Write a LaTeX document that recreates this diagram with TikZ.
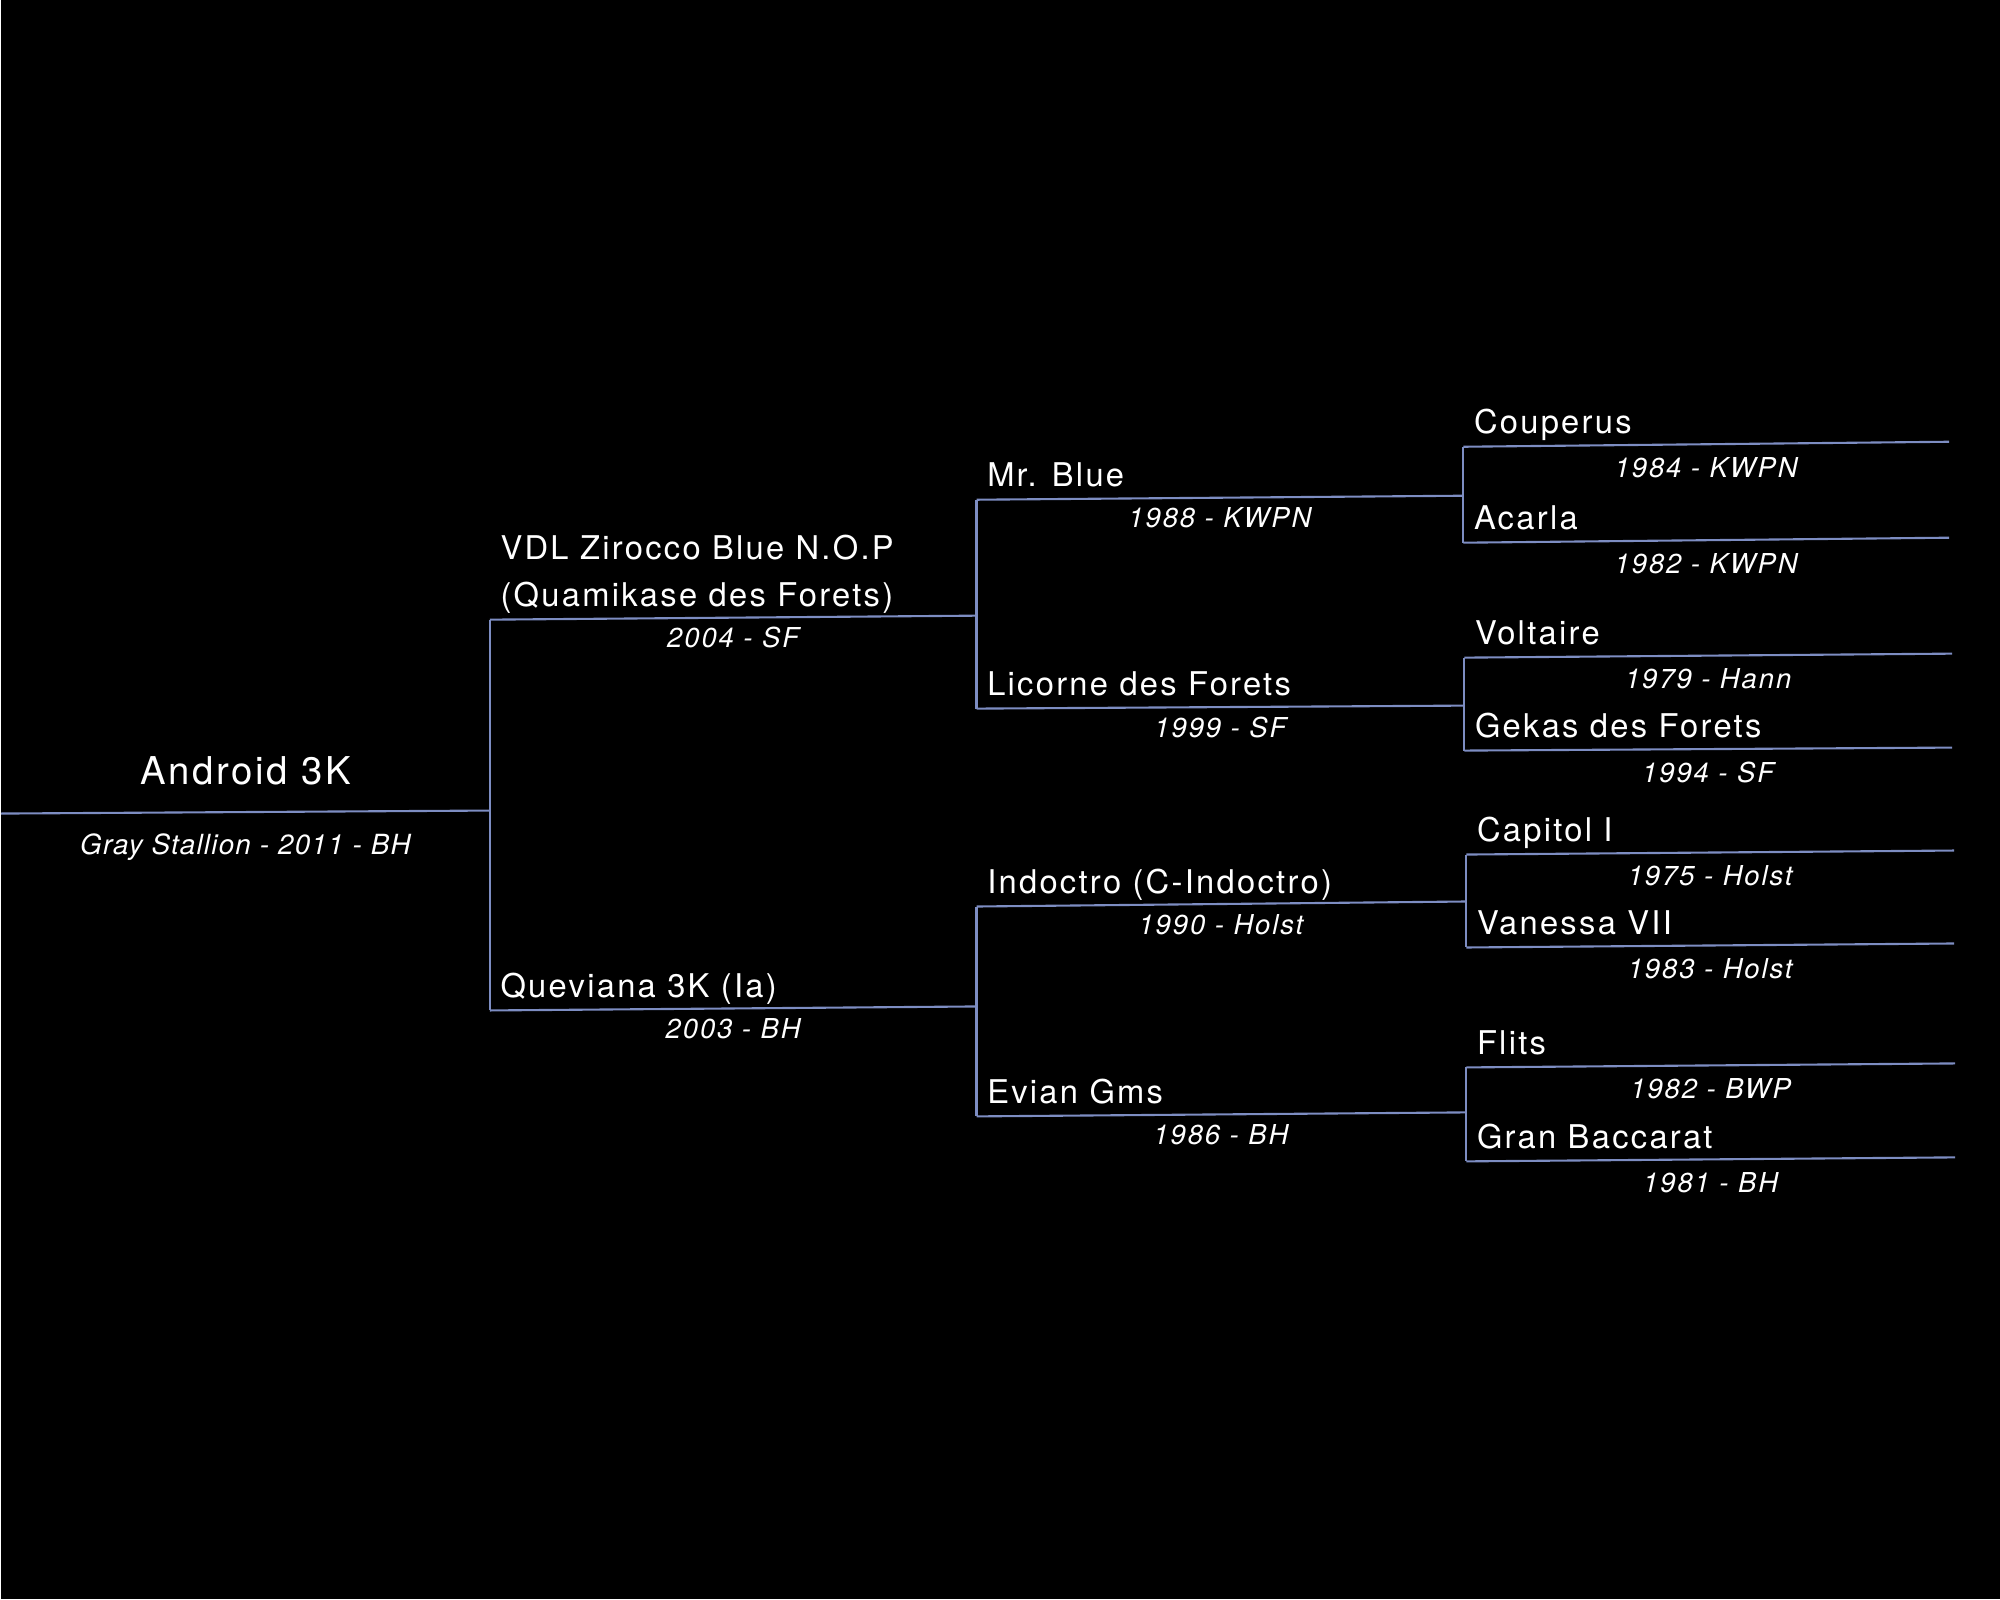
\documentclass[tikz,border=0pt]{standalone}
\usepackage{fontspec}
\usepackage{xcolor}
\usepackage{tikz}
\usetikzlibrary{positioning}

\newfontfamily\pedfont{TeX Gyre Heros}[LetterSpace=7]
\newfontfamily\pedinfofont{TeX Gyre Heros}[LetterSpace=4.5]
\definecolor{pedline}{RGB}{125,141,194}

\begin{document}
\begin{tikzpicture}[
    x=0.01cm, y=0.01cm,
    horse/.style={text=white, inner sep=0pt, anchor=base west, xshift=1.0mm, yshift=1.3mm, font=\pedfont\fontsize{9.3}{13.4}\selectfont},
    year/.style={text=white, inner sep=0pt, anchor=base, yshift=-3mm, font=\pedfont\itshape\fontsize{7.8}{9}\selectfont},
    oldyear/.style={year, yshift=-0.3mm},
    rootname/.style={text=white, inner sep=0pt, anchor=base, yshift=2.8mm, font=\pedfont\fontsize{10.9}{13}\selectfont},
    rootinfo/.style={text=white, inner sep=0pt, anchor=base, yshift=-4.2mm, font=\pedinfofont\itshape\fontsize{7.9}{9}\selectfont},
    line/.style={draw=pedline, line width=0.6pt}
]

% Background
\fill[black] (0,0) rectangle (2000,1600);

% Line ends
\coordinate (r-a) at (0,786);
\coordinate (r-b) at (489,789);

\coordinate (s-a) at (489,980);
\coordinate (s-b) at (976,984);
\coordinate (d-a) at (489,589);
\coordinate (d-b) at (976,593);

\coordinate (ss-a) at (976,1100);
\coordinate (ss-b) at (1463,1104);
\coordinate (sd-a) at (976,891);
\coordinate (sd-b) at (1464,894);
\coordinate (ds-a) at (976,693);
\coordinate (ds-b) at (1465,698);
\coordinate (dd-a) at (976,483);
\coordinate (dd-b) at (1465,487);

\coordinate (sss-a) at (1463,1153);
\coordinate (sss-b) at (1949,1158);
\coordinate (ssd-a) at (1463,1057);
\coordinate (ssd-b) at (1949,1062);
\coordinate (sds-a) at (1464,942);
\coordinate (sds-b) at (1952,946);
\coordinate (sdd-a) at (1464,849);
\coordinate (sdd-b) at (1952,852);
\coordinate (dss-a) at (1466,745);
\coordinate (dss-b) at (1954,749);
\coordinate (dsd-a) at (1466,652);
\coordinate (dsd-b) at (1954,656);
\coordinate (dds-a) at (1466,532);
\coordinate (dds-b) at (1955,536);
\coordinate (ddd-a) at (1466,438);
\coordinate (ddd-b) at (1955,442);

% Names
\node[horse, align=left] (zirocco) at (s-a) {VDL Zirocco Blue N.O.P\\(Quamikase des Forets)};
\node[horse] (queviana) at (d-a) {Queviana 3K (Ia)};

\node[horse] (mrblue) at (ss-a) {Mr. Blue};
\node[horse] (licorne) at (sd-a) {Licorne des Forets};
\node[horse] (indoctro) at (ds-a) {Indoctro (C-Indoctro)};
\node[horse] (evian) at (dd-a) {Evian Gms};

\node[horse] (couperus) at (sss-a) {Couperus};
\node[horse] (acarla) at (ssd-a) {Acarla};
\node[horse] (voltaire) at (sds-a) {Voltaire};
\node[horse] (gekas) at (sdd-a) {Gekas des Forets};
\node[horse] (capitol) at (dss-a) {Capitol I};
\node[horse] (vanessa) at (dsd-a) {Vanessa VII};
\node[horse] (flits) at (dds-a) {Flits};
\node[horse] (baccarat) at (ddd-a) {Gran Baccarat};

% Connections
\draw[line] (r-a) -- node[rootname] (android) {Android 3K} node[rootinfo] (android-info) {Gray Stallion - 2011 - BH} (r-b);
\draw[line] (s-a) -- (d-a);
\draw[line] (s-a) -- node[year] (zirocco-yr) {2004 - SF} (s-b);
\draw[line] (d-a) -- node[year] (queviana-yr) {2003 - BH} (d-b);

\draw[line] (ss-a) -- (sd-a);
\draw[line] (ds-a) -- (dd-a);
\draw[line] (ss-a) -- node[year] (mrblue-yr) {1988 - KWPN} (ss-b);
\draw[line] (sd-a) -- node[year] (licorne-yr) {1999 - SF} (sd-b);
\draw[line] (ds-a) -- node[year] (indoctro-yr) {1990 - Holst} (ds-b);
\draw[line] (dd-a) -- node[year] (evian-yr) {1986 - BH} (dd-b);

\draw[line] (sss-a) -- (ssd-a);
\draw[line] (sds-a) -- (sdd-a);
\draw[line] (dss-a) -- (dsd-a);
\draw[line] (dds-a) -- (ddd-a);
\draw[line] (sss-a) -- node[oldyear] (couperus-yr) {1984 - KWPN} (sss-b);
\draw[line] (ssd-a) -- node[oldyear] (acarla-yr) {1982 - KWPN} (ssd-b);
\draw[line] (sds-a) -- node[oldyear] (voltaire-yr) {1979 - Hann} (sds-b);
\draw[line] (sdd-a) -- node[oldyear] (gekas-yr) {1994 - SF} (sdd-b);
\draw[line] (dss-a) -- node[oldyear] (capitol-yr) {1975 - Holst} (dss-b);
\draw[line] (dsd-a) -- node[oldyear] (vanessa-yr) {1983 - Holst} (dsd-b);
\draw[line] (dds-a) -- node[oldyear] (flits-yr) {1982 - BWP} (dds-b);
\draw[line] (ddd-a) -- node[oldyear] (baccarat-yr) {1981 - BH} (ddd-b);

\end{tikzpicture}
\end{document}
